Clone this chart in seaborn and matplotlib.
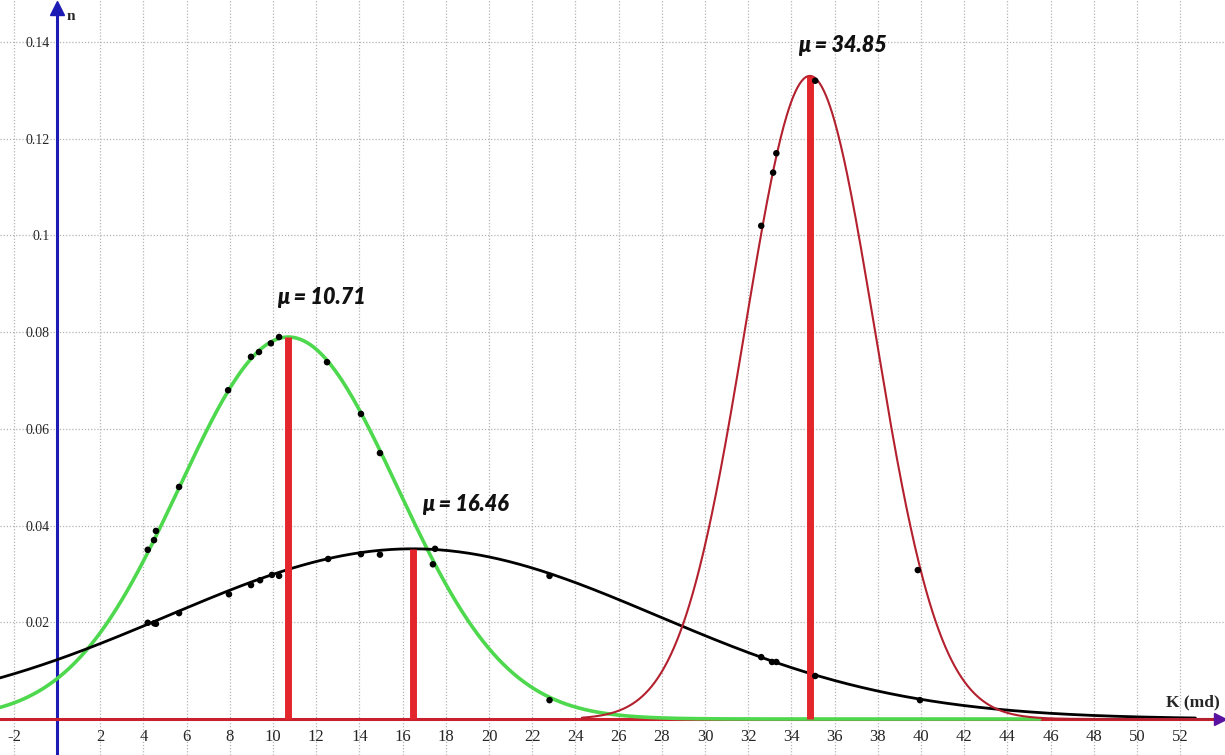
import numpy as np
import pandas as pd
import matplotlib
matplotlib.use("Agg")
import matplotlib.pyplot as plt
import seaborn as sns

# ---------------- data ----------------
# fitted normal curves: means are labelled on the chart, peak heights read off the y axis
curve_names = ["green", "black", "red"]
curve_mu = [10.71, 16.46, 34.85]
curve_peak = [0.0790, 0.0352, 0.1330]
curve_x_start = [-2.64, -2.64, 24.3]
curve_x_end = [45.5, 52.7, 53.6]

# observed points (black dots)
green_pts_x = [4.20, 4.49, 4.58, 5.65, 7.92, 8.98, 9.35, 9.90, 10.28, 12.50, 14.07, 14.95, 17.40, 22.80]
green_pts_y = [0.0350, 0.0370, 0.0389, 0.0480, 0.0680, 0.0749, 0.0759, 0.0777, 0.0790, 0.0738, 0.0631, 0.0550, 0.0320, 0.0039]
black_pts_x = [4.20, 4.50, 4.58, 5.65, 7.96, 8.98, 9.40, 9.95, 10.28, 12.55, 14.07, 14.95, 17.50, 22.80, 32.60, 33.10, 33.30, 35.10, 39.95]
black_pts_y = [0.0199, 0.0198, 0.0197, 0.0219, 0.0258, 0.0277, 0.0287, 0.0298, 0.0296, 0.0331, 0.0341, 0.0340, 0.0352, 0.0296, 0.0128, 0.0118, 0.0118, 0.0089, 0.0039]
red_pts_x = [32.60, 33.15, 33.30, 35.10, 39.85]
red_pts_y = [0.1020, 0.1130, 0.1170, 0.1320, 0.0308]

mu_labels = ["\u03bc = 10.71", "\u03bc = 16.46", "\u03bc = 34.85"]
mu_label_x = [12.22, 18.89, 36.34]
mu_label_y = [0.0871, 0.0443, 0.1392]

x_ticks = [-2, 2, 4, 6, 8, 10, 12, 14, 16, 18, 20, 22, 24, 26, 28, 30, 32, 34, 36, 38, 40, 42, 44, 46, 48, 50, 52]
x_tick_labels = ["-2", "2", "4", "6", "8", "10", "12", "14", "16", "18", "20", "22", "24", "26", "28", "30",
                 "32", "34", "36", "38", "40", "42", "44", "46", "48", "50", "52"]
y_ticks = [0.02, 0.04, 0.06, 0.08, 0.10, 0.12, 0.14]
y_tick_labels = ["0.02", "0.04", "0.06", "0.08", "0.1", "0.12", "0.14"]

# ---------------- style ----------------
sns.set_style("white")
plt.rcParams["font.family"] = ["Liberation Serif", "DejaVu Serif"]

curve_colors = {"green": "#4ed84e", "black": "#000000", "red": "#b3202e"}
curve_widths = {"green": 2.6, "black": 2.0, "red": 1.5}
bar_color = "#e3262c"

fig = plt.figure(figsize=(12.25, 7.55), dpi=100)
ax = fig.add_axes([0, 0, 1, 1])

# fitted curves
rows = []
for name, mu, pk, a, b in zip(curve_names, curve_mu, curve_peak, curve_x_start, curve_x_end):
    sd = 1.0 / (pk * np.sqrt(2 * np.pi))
    xs = np.linspace(a, b, 600)
    ys = pk * np.exp(-0.5 * ((xs - mu) / sd) ** 2)
    rows.append(pd.DataFrame({"K": xs, "n": ys, "curve": name}))
curves = pd.concat(rows, ignore_index=True)
for name in curve_names:
    sub = curves[curves["curve"] == name]
    sns.lineplot(data=sub, x="K", y="n", color=curve_colors[name],
                 linewidth=curve_widths[name], ax=ax, zorder=3, sort=False,
                 estimator=None)

# red mean bars
for mu, pk in zip(curve_mu, curve_peak):
    ax.vlines(mu, 0, pk, color=bar_color, linewidth=5, zorder=4)

# observed dots
pts = pd.DataFrame({
    "K": green_pts_x + black_pts_x + red_pts_x,
    "n": green_pts_y + black_pts_y + red_pts_y,
})
sns.scatterplot(data=pts, x="K", y="n", color="black", s=22, edgecolor="none", ax=ax, zorder=5)
ax.set_xlabel("")
ax.set_ylabel("")

ax.set_xlim(-2.64, 54.07)
ax.set_ylim(-0.00744, 0.1487)

# ticks and grid
ax.minorticks_off()
ax.set_xticks(x_ticks)
ax.set_xticklabels(x_tick_labels)
ax.set_yticks(y_ticks)
ax.set_yticklabels(y_tick_labels)
ax.grid(False)
ax.grid(True, which="major", color="#b4b4b4", linestyle=(0, (1, 1.5)), linewidth=0.9)
ax.set_axisbelow(True)

# axes through the origin
for s in ["top", "right"]:
    ax.spines[s].set_visible(False)
ax.spines["left"].set_position(("data", 0))
ax.spines["bottom"].set_position(("data", 0))
ax.spines["left"].set_color("#1c1cb4")
ax.spines["left"].set_linewidth(2.2)
ax.spines["bottom"].set_color("#c8202c")
ax.spines["bottom"].set_linewidth(2.2)
ax.spines["bottom"].set_bounds(-2.64, 53.6)
ax.spines["left"].set_bounds(-0.00744, 0.1465)
ax.tick_params(axis="x", direction="inout", length=8, width=1.0, color="#24246e",
               labelsize=12, pad=3)
ax.tick_params(axis="y", direction="inout", length=9, width=1.4, color="#1c1cb4",
               labelsize=10, pad=1)

# arrowheads
ax.plot([53.85], [0], marker=">", markersize=9, color="#5a12a0", clip_on=False, zorder=6)
ax.plot([0], [0.1470], marker="^", markersize=10, color="#1c1cb4", clip_on=False, zorder=6)

# mean labels
for t, x, y in zip(mu_labels, mu_label_x, mu_label_y):
    ax.text(x, y, t, ha="center", va="center", fontsize=15.5, fontweight=800,
            fontstyle="italic", family=["Lato", "DejaVu Sans"], color="#111111", zorder=7)

# axis names
ax.text(0.45, 0.1452, "n", ha="left", va="center", fontsize=11, fontweight="bold", zorder=7)
ax.text(52.6, 0.0035, "K (md)", ha="center", va="center", fontsize=12.5, fontweight="bold", zorder=7)

fig.savefig("out.png", dpi=100)
